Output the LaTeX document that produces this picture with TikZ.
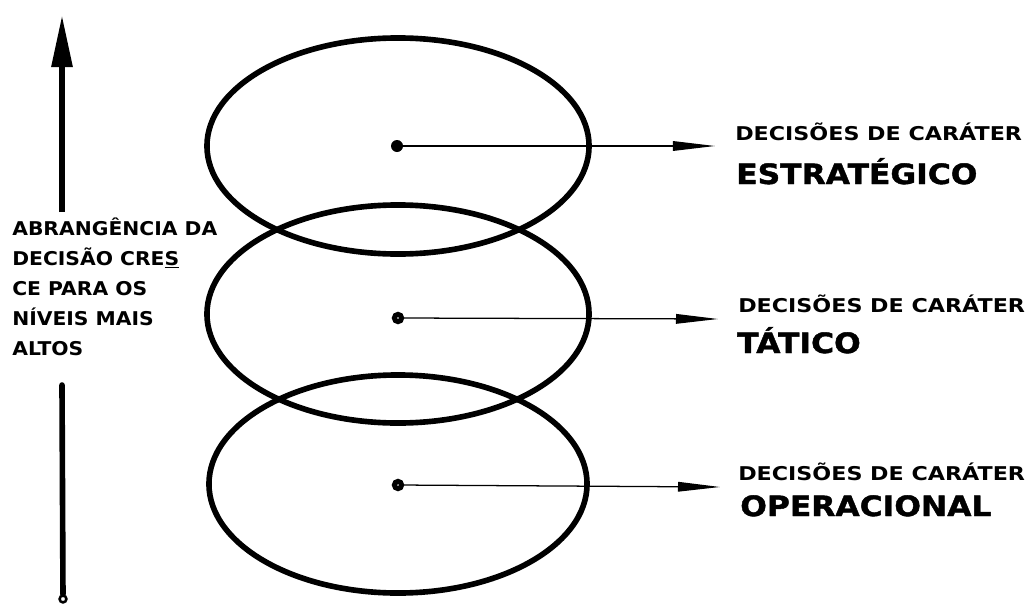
\documentclass[tikz,border=0pt]{standalone}
\usepackage{fontspec}
\usepackage{tikz}
\usetikzlibrary{arrows.meta}
\setmainfont{DejaVu Sans}
\newfontfamily\sidefont{DejaVu Sans}[FakeStretch=1.07]
\newfontfamily\tagfont{DejaVu Sans}[FakeStretch=1.17]
\newfontfamily\levelfont{DejaVu Sans}[FakeStretch=1.12, BoldFeatures={FakeBold=1.5}]

\begin{document}
\begin{tikzpicture}[x=0.025cm, y=-0.025cm,
    side/.style={anchor=base west, inner sep=0pt, font=\sidefont\bfseries\fontsize{13.5}{16}\selectfont},
    tag/.style={anchor=base west, inner sep=0pt, font=\tagfont\bfseries\fontsize{13.5}{16}\selectfont},
    level/.style={anchor=base west, inner sep=0pt, font=\levelfont\bfseries\fontsize{19.9}{24}\selectfont},
    layer/.style={line width=4pt},
    soliddot/.style={circle, fill=black, inner sep=0pt, minimum size=0.3cm},
    ringdot/.style={circle, draw=black, line width=3.6pt, inner sep=0pt, minimum size=0.18cm},
    pointer/.style={line width=0.9pt, -{Triangle[length=1.05cm, width=0.24cm]}}]
    \useasboundingbox (0,0) rectangle (1032,605);

    % left axis: scope of the decision
    \coordinate (upBase) at (62,212);
    \coordinate (upTip) at (62,15);
    \draw[line width=4.2pt, -{Triangle[length=1.3cm, width=0.5cm]}] (upBase) -- (upTip);
    \foreach \txt [count=\i] in {ABRANGÊNCIA DA, DECISÃO CRE\underline{S}, CE PARA OS, NÍVEIS MAIS, ALTOS}
        \node[side] (side\i) at (12, 205+30*\i) {\txt};
    \coordinate (lowTop) at (62,385);
    \node[circle, draw=black, line width=1.8pt, inner sep=0pt, minimum size=0.17cm] (foot) at (63,599) {};
    \draw[line width=4pt, line cap=round] (lowTop) -- (foot);

    % 1. Estrategico
    \draw[layer] (398,146) ellipse [x radius=4.775cm, y radius=2.7cm];
    \node[soliddot] (dotA) at (397,146) {};
    \coordinate (tipA) at (715,146);
    \draw[pointer] (dotA) -- (tipA);
    \node[tag] (tagA) at (735,140) {DECISÕES DE CARÁTER};
    \node[level] (lvlA) at (736,184) {ESTRATÉGICO};

    % 2. Tatico
    \draw[layer] (398,314) ellipse [x radius=4.775cm, y radius=2.725cm];
    \node[ringdot] (dotB) at (398,318) {};
    \coordinate (tipB) at (718,319);
    \draw[pointer] (dotB) -- (tipB);
    \node[tag] (tagB) at (738,312) {DECISÕES DE CARÁTER};
    \node[level] (lvlB) at (737,353) {TÁTICO};

    % 3. Operacional
    \draw[layer] (398,484) ellipse [x radius=4.725cm, y radius=2.725cm];
    \node[ringdot] (dotC) at (398,485) {};
    \coordinate (tipC) at (720,487);
    \draw[pointer] (dotC) -- (tipC);
    \node[tag] (tagC) at (738,480) {DECISÕES DE CARÁTER};
    \node[level] (lvlC) at (740,516) {OPERACIONAL};
\end{tikzpicture}
\end{document}
